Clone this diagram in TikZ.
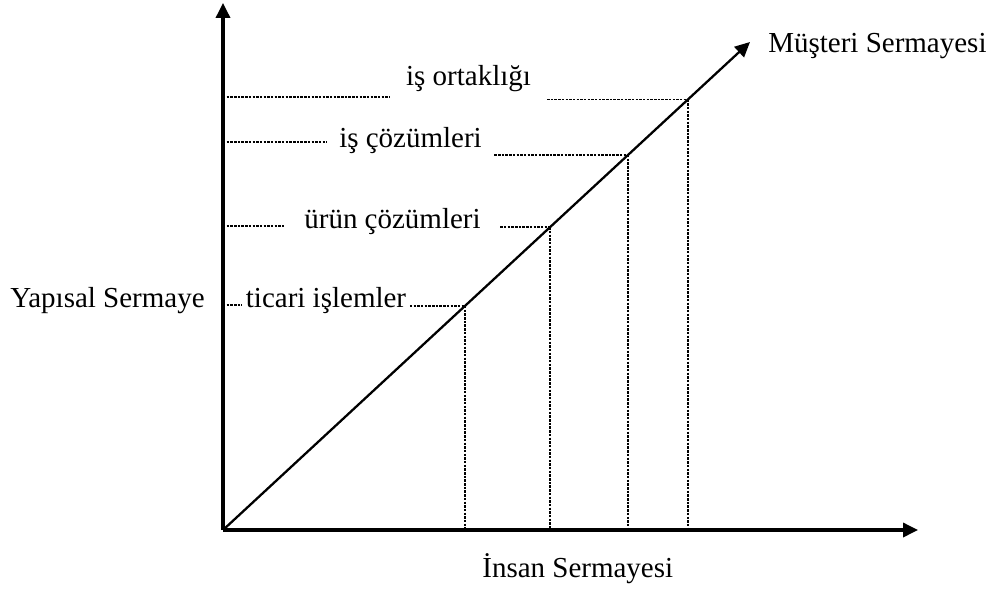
\documentclass[tikz,border=0pt]{standalone}
\usepackage{fontspec}
\setmainfont{Liberation Serif}
\usetikzlibrary{arrows.meta,calc}

\begin{document}
\begin{tikzpicture}[x=0.02cm, y=-0.02cm, every node/.style={font=\fontsize{16.5}{19}\selectfont, inner sep=0pt}, >={Triangle[length=8.5pt, width=8pt]}, axis/.style={line width=1.8pt}, dot/.style={line width=0.9pt, dash pattern=on 1.4pt off 0.7pt}, lbl/.style={anchor=base, inner xsep=7pt}]
	\useasboundingbox (0,0) rectangle (994,589);
	\coordinate (O) at (223,530);
	\coordinate (Y) at (223,3);
	\coordinate (X) at (918,530);
	\coordinate (M) at (750,42);
	\coordinate (a1) at ($(O)!0.459!(M)$);
	\coordinate (a2) at ($(O)!0.6205!(M)$);
	\coordinate (a3) at ($(O)!0.7685!(M)$);
	\coordinate (a4) at ($(O)!0.882!(M)$);
	\coordinate (y1) at (223,305);
	\coordinate (y2) at (223,226);
	\coordinate (y3) at (223,142);
	\coordinate (y4) at (223,97);
	\node[lbl, inner xsep=2pt] (t1) at (326,307) {ticari işlemler};
	\node[lbl, inner xsep=11pt] (t2) at (392.5,228) {ürün çözümleri};
	\node[lbl] (t3) at (410.5,147) {iş çözümleri};
	\node[lbl, inner xsep=9pt] (t4) at (468.5,85) {iş ortaklığı};
	\node[anchor=base east] (ys) at (205,307) {Yapısal Sermaye};
	\node[anchor=base west] (ms) at (768,52) {Müşteri Sermayesi};
	\node[anchor=base west] (is) at (482,577) {İnsan Sermayesi};
	\draw[dot] (y1) -- (t1.west |- y1);
	\draw[dot] (y2) -- (t2.west |- y2);
	\draw[dot] (y3) -- (t3.west |- y3);
	\draw[dot] (y4) -- (t4.west |- y4);
	\draw[dot] (t1.east |- a1) -- (a1);
	\draw[dot] (t2.east |- a2) -- (a2);
	\draw[dot] (t3.east |- a3) -- (a3);
	\draw[dot] (t4.east |- a4) -- (a4);
	\draw[dot] (a1) -- (a1 |- O);
	\draw[dot] (a2) -- (a2 |- O);
	\draw[dot] (a3) -- (a3 |- O);
	\draw[dot] (a4) -- (a4 |- O);
	\draw[line width=1.3pt, ->] (O) -- (M);
	\draw[axis, ->] (O) -- (Y);
	\draw[axis, ->] (O) -- (X);
\end{tikzpicture}
\end{document}
